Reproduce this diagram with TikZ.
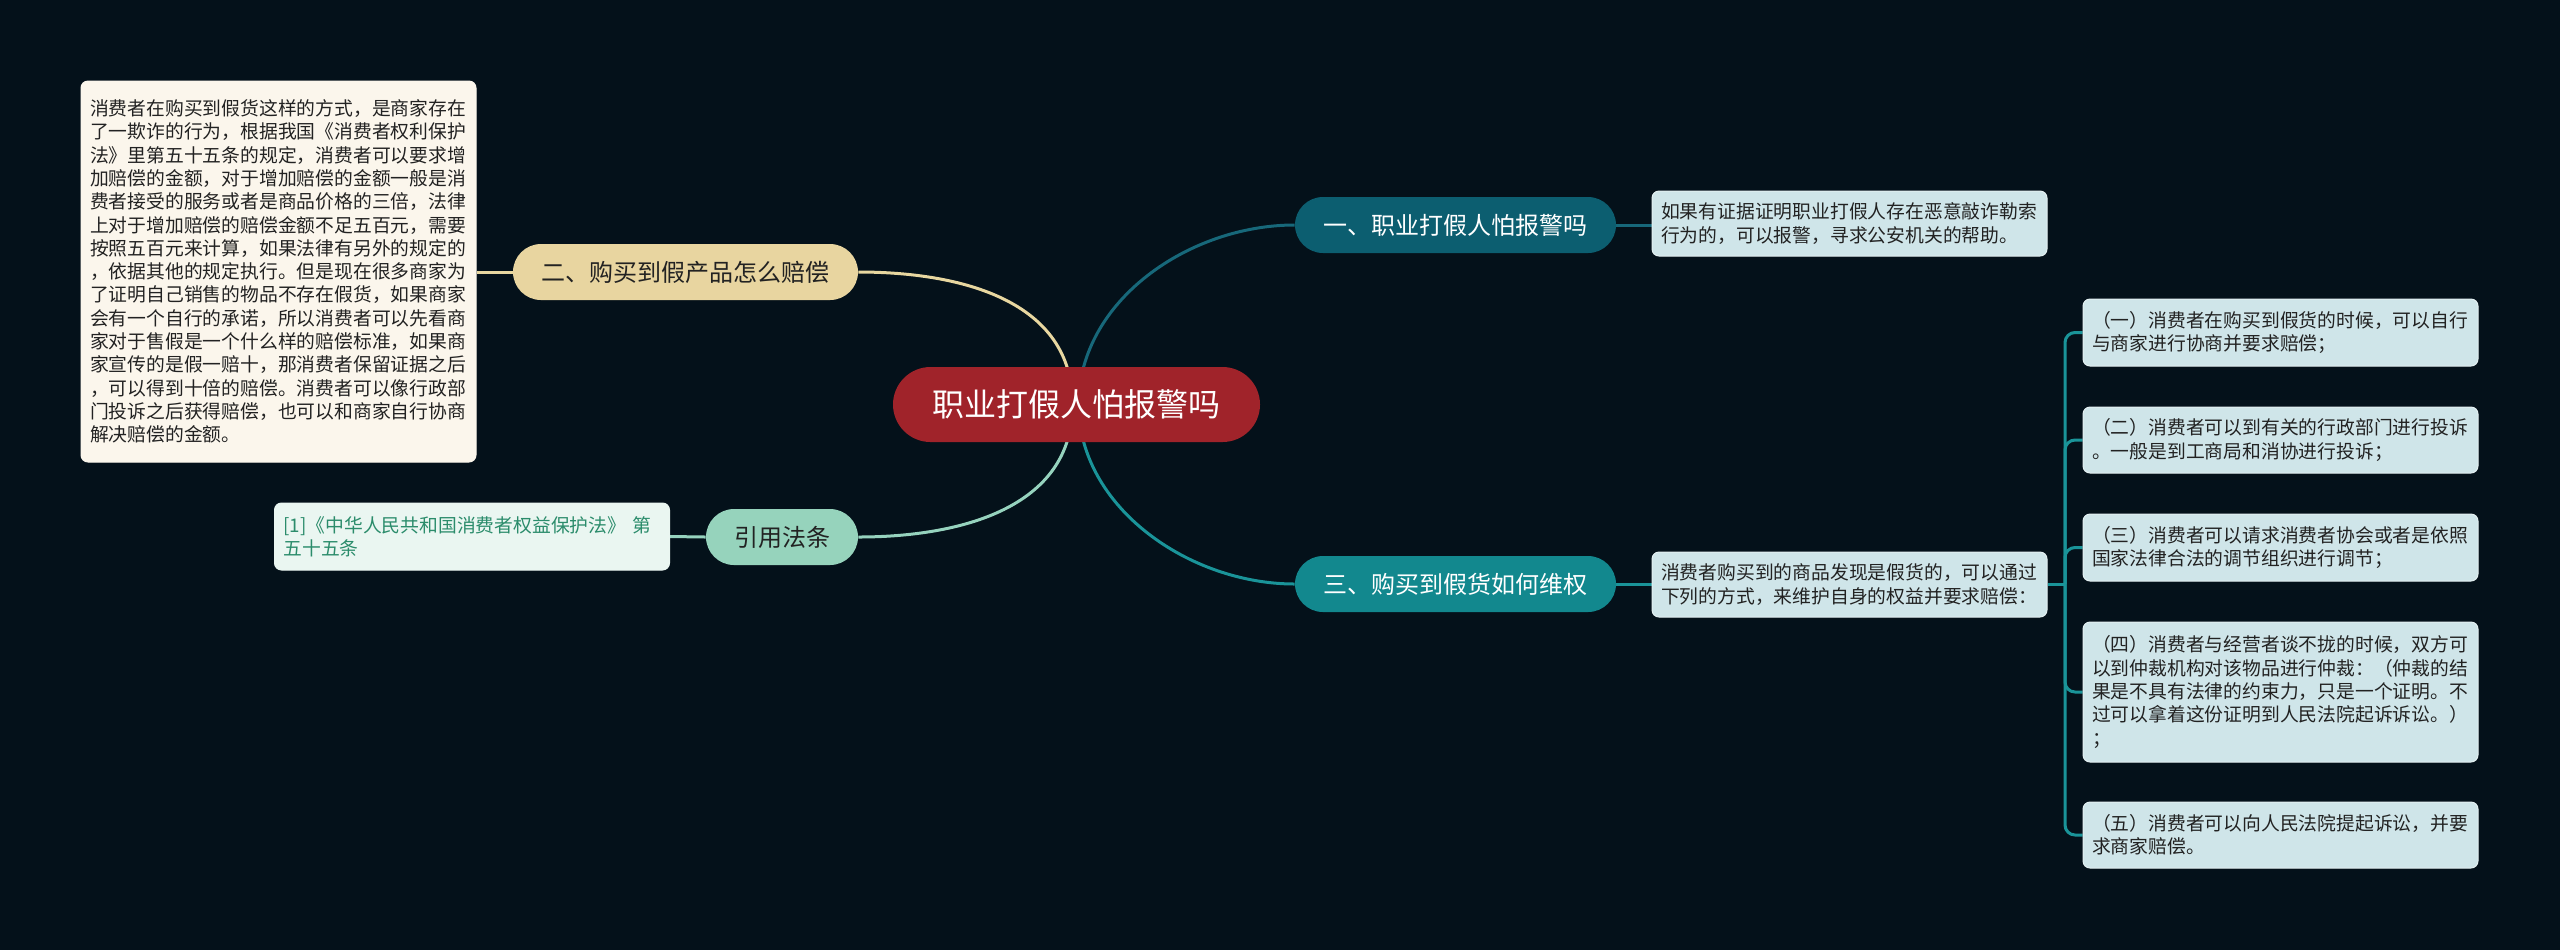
\documentclass[tikz,border=0pt]{standalone}
\usepackage{fontspec}
\setmainfont{Noto Sans CJK SC}
\pgfdeclarelayer{back}
\pgfdeclarelayer{lines}
\pgfsetlayers{back,lines,main}
\definecolor{bgc}{HTML}{04111A}
\definecolor{centralc}{HTML}{A0232A}
\definecolor{darkteal}{HTML}{0C5E70}
\definecolor{teal}{HTML}{12888E}
\definecolor{wheat}{HTML}{E8D5A0}
\definecolor{mint}{HTML}{96D3BC}
\definecolor{leafblue}{HTML}{CFE5E9}
\definecolor{leafborder}{HTML}{E4F0F2}
\definecolor{cream}{HTML}{FBF6EC}
\definecolor{citefill}{HTML}{EAF6F1}
\definecolor{citetext}{HTML}{2B8C6B}
\definecolor{darktext}{HTML}{222222}
\definecolor{lnyellow}{HTML}{E8D7A0}
\definecolor{lngreen}{HTML}{96D3BE}
\definecolor{lndteal}{HTML}{17687A}
\definecolor{lnteal}{HTML}{1A9499}
\begin{document}
\begin{tikzpicture}[x=0.5pt,y=-0.5pt,
  pill/.style={rounded corners=14pt, inner sep=0pt, minimum height=28pt,
    font=\fontsize{12pt}{14pt}\selectfont},
  leaf/.style={rounded corners=3.5pt, draw=leafborder, line width=0.5pt, fill=leafblue,
    align=left, text width=188.5pt, inner xsep=4.5pt, inner ysep=0pt,
    font=\fontsize{9.4pt}{11.65pt}\selectfont, text=darktext},
  ln/.style={line width=1.5pt}]
\begin{pgfonlayer}{back}
\fill[bgc] (0,0) rectangle (2560,950);
\end{pgfonlayer}
\useasboundingbox (0,0) rectangle (2560,950);

% central
\node[fill=centralc, text=white, rounded corners=18.75pt, inner sep=0pt,
  minimum width=183.5pt, minimum height=37.5pt,
  font=\fontsize{16pt}{18pt}\selectfont] (c) at (1076.5,404.5) {职业打假人怕报警吗};

% branches
\node[pill, fill=darkteal, text=white, minimum width=160.5pt] (b1) at (1455.5,225) {一、职业打假人怕报警吗};
\node[pill, fill=teal, text=white, minimum width=160.5pt] (b3) at (1455.5,584) {三、购买到假货如何维权};
\node[pill, fill=wheat, text=darktext, minimum width=172.5pt] (b2) at (685.5,272) {二、购买到假产品怎么赔偿};
\node[pill, fill=mint, text=darktext, minimum width=76pt] (b4) at (782,537) {引用法条};

% leaves
\node[leaf, minimum height=32.5pt] (l1) at (1849.5,223.5)
  {如果有证据证明职业打假人存在恶意敲诈勒索\\行为的，可以报警，寻求公安机关的帮助。};
\node[leaf, minimum height=32.5pt] (l3) at (1849.5,584.5)
  {消费者购买到的商品发现是假货的，可以通过\\下列的方式，来维护自身的权益并要求赔偿：};
\node[leaf, minimum height=33.5pt] (r1) at (2280.5,332.5)
  {（一）消费者在购买到假货的时候，可以自行\\与商家进行协商并要求赔偿；};
\node[leaf, minimum height=33pt] (r2) at (2280.5,440)
  {（二）消费者可以到有关的行政部门进行投诉\\。一般是到工商局和消协进行投诉；};
\node[leaf, minimum height=33.5pt] (r3) at (2280.5,547.5)
  {（三）消费者可以请求消费者协会或者是依照\\国家法律合法的调节组织进行调节；};
\node[leaf, minimum height=70pt] (r4) at (2280.5,692)
  {（四）消费者与经营者谈不拢的时候，双方可\\以到仲裁机构对该物品进行仲裁：（仲裁的结\\果是不具有法律的约束力，只是一个证明。不\\过可以拿着这份证明到人民法院起诉诉讼。）\\；};
\node[leaf, minimum height=33pt] (r5) at (2280.5,835)
  {（五）消费者可以向人民法院提起诉讼，并要\\求商家赔偿。};
\node[leaf, fill=cream, draw=cream, minimum height=190.5pt] (l2) at (278.5,271.5)
  {消费者在购买到假货这样的方式，是商家存在\\了一欺诈的行为，根据我国《消费者权利保护\\法》里第五十五条的规定，消费者可以要求增\\加赔偿的金额，对于增加赔偿的金额一般是消\\费者接受的服务或者是商品价格的三倍，法律\\上对于增加赔偿的赔偿金额不足五百元，需要\\按照五百元来计算，如果法律有另外的规定的\\，依据其他的规定执行。但是现在很多商家为\\了证明自己销售的物品不存在假货，如果商家\\会有一个自行的承诺，所以消费者可以先看商\\家对于售假是一个什么样的赔偿标准，如果商\\家宣传的是假一赔十，那消费者保留证据之后\\，可以得到十倍的赔偿。消费者可以像行政部\\门投诉之后获得赔偿，也可以和商家自行协商\\解决赔偿的金额。};
\node[leaf, fill=citefill, draw=citefill, text=citetext, minimum height=33.5pt] (cite) at (472,536.5)
  {[1]《中华人民共和国消费者权益保护法》 第\\五十五条};

\begin{pgfonlayer}{lines}
\draw[ln, lnyellow] ([xshift=-2pt]c.center) .. controls (1073,300) and (960,272) .. (b2.east);
\draw[ln, lngreen] ([xshift=-2pt]c.center) .. controls (1073,508) and (960,537) .. (b4.east);
\draw[ln, lndteal] ([xshift=1pt]c.center) .. controls (1079,300) and (1190,225) .. (b1.west);
\draw[ln, lnteal] ([xshift=1pt]c.center) .. controls (1079,508) and (1190,584) .. (b3.west);
\draw[ln, lngreen] (b4.west) -- (cite.east);
\draw[ln, lnyellow] (b2.west) -- (l2.east |- b2.west);
\draw[ln, lndteal] (b1.east) -- (l1.west |- b1.east);
\draw[ln, lnteal] (b3.east) -- (l3.west |- b3.east);
\coordinate (sp) at (2065,584.5);
\draw[ln, lnteal] (l3.east) -- (sp);
\foreach \r in {r1,r2,r3,r4,r5}
  \draw[ln, lnteal, rounded corners=5pt] (sp) |- (\r.west);
\end{pgfonlayer}
\end{tikzpicture}
\end{document}
